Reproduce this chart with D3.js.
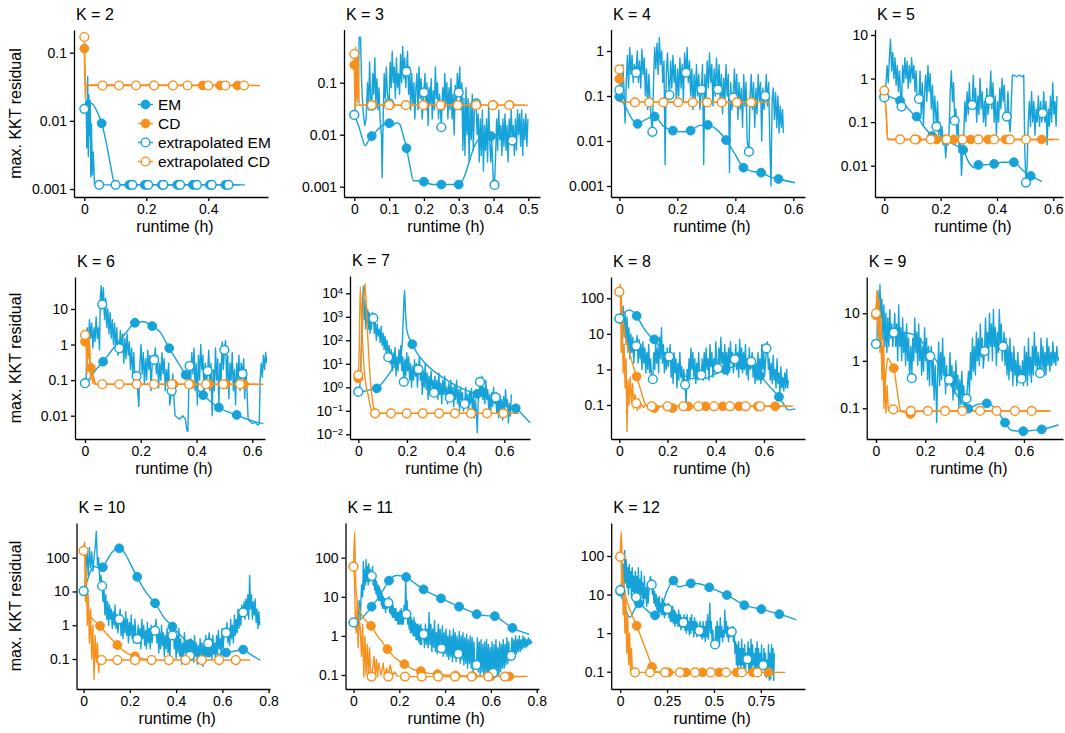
<!DOCTYPE html>
<html>
<head>
<meta charset="utf-8">
<script src="https://cdn.jsdelivr.net/npm/d3@7"></script>
<style>
  body { margin: 0; background: #fff; }
  svg text { font-family: "Liberation Sans", Arial, Helvetica, sans-serif; fill: #000; }
</style>
</head>
<body>
<svg id="chart" width="1065" height="733"></svg>
<script>
// ---------- runtime (h) vs. max. KKT residual, one panel per K ----------

// K = 2
const emK2 = [[0,0.015],[0.01,0.016],[0.024,0.018],[0.04,0.014],[0.056,0.0092],[0.07,0.005],[0.085,0.0022],[0.099,0.00115],[0.5,0.00115]];
const emK2Marks = [[0.056,0.0092],[0.145,0.00115],[0.195,0.00115],[0.25,0.00115],[0.3,0.00115],[0.35,0.00115],[0.405,0.00115],[0.455,0.00115]];
const cdK2 = [[0,0.115],[0.003,0.02],[0.006,0.033],[0.5,0.033]];
const cdK2Marks = [[0,0.115],[0.225,0.033],[0.285,0.033],[0.382,0.033],[0.438,0.033],[0.494,0.033]];
const xemK2 = [[0,0.015],[0.006,0.02],[0.008,0.004],[0.011,0.045],[0.013,0.003],[0.015,0.024],[0.017,0.006],[0.019,0.02],[0.021,0.0015],[0.023,0.009],[0.026,0.0016],[0.029,0.0035],[0.033,0.00115],[0.518,0.00115]];
const xemK2Marks = [[0,0.015],[0.048,0.00115],[0.101,0.00115],[0.155,0.00115],[0.206,0.00115],[0.255,0.00115],[0.309,0.00115],[0.363,0.00115],[0.411,0.00115],[0.465,0.00115]];
const xcdK2 = [[0,0.17],[0.004,0.034],[0.567,0.033]];
const xcdK2Marks = [[0,0.17],[0.059,0.033],[0.112,0.033],[0.167,0.033],[0.225,0.033],[0.286,0.033],[0.333,0.033],[0.4,0.033],[0.455,0.033],[0.515,0.033]];

// K = 3
const emK3 = [[0,0.024],[0.012,0.015],[0.022,0.009],[0.031,0.0061],[0.04,0.0075],[0.05,0.0094],[0.065,0.012],[0.08,0.015],[0.1,0.0166],[0.11,0.015],[0.12,0.017],[0.13,0.016],[0.14,0.01],[0.15,0.0055],[0.16,0.0025],[0.17,0.0013],[0.185,0.0013],[0.2,0.00125],[0.225,0.0011],[0.25,0.0011],[0.275,0.0011],[0.3,0.0011],[0.315,0.0015],[0.33,0.003],[0.345,0.006],[0.36,0.0085],[0.375,0.0095],[0.393,0.0094],[0.42,0.0098],[0.45,0.0098]];
const emK3Marks = [[0,0.024],[0.05,0.0094],[0.1,0.0166],[0.15,0.0055],[0.2,0.00125],[0.25,0.0011],[0.3,0.0011],[0.393,0.0094]];
const cdK3 = [[0,0.22],[0.002,0.03],[0.004,0.5],[0.006,0.05],[0.008,0.4],[0.01,0.04],[0.012,0.3],[0.014,0.037],[0.5,0.037]];
const cdK3Marks = [[0,0.22],[0.053,0.037],[0.103,0.037],[0.2,0.037],[0.251,0.037],[0.352,0.037],[0.4,0.037],[0.447,0.037]];
const xemK3 = [[0,0.024],[0.005,0.05],[0.008,0.3],[0.011,0.06],[0.014,0.75],[0.018,0.75],[0.021,0.1],[0.025,0.03],[0.03,0.015],[0.034,0.02],[0.038,0.1],[0.041,0.03],[0.044,0.25],[0.047,0.05],[0.05,0.036],[0.053,0.15],[0.056,0.06],[0.059,0.3],[0.062,0.04],[0.065,0.12],[0.068,0.03],[0.071,0.08],[0.074,0.02],[0.078,0.01],[0.08,0.0015],[0.083,0.02],[0.086,0.15],[0.089,0.05],[0.092,0.2],[0.095,0.06],[0.1,0.04],[0.103,0.25],[0.106,0.08],[0.109,0.4],[0.112,0.1],[0.115,0.2],[0.118,0.05],[0.121,0.3],[0.124,0.08],[0.127,0.15],[0.13,0.06],[0.133,0.35],[0.136,0.1],[0.139,0.5],[0.142,0.12],[0.145,0.3],[0.148,0.08],[0.15,0.163],[0.153,0.4],[0.156,0.06],[0.159,0.2],[0.162,0.03],[0.165,0.15],[0.168,0.04],[0.171,0.1],[0.174,0.02],[0.177,0.08],[0.18,0.15],[0.183,0.03],[0.186,0.2],[0.189,0.05],[0.192,0.12],[0.195,0.02],[0.2,0.065],[0.203,0.15],[0.206,0.03],[0.209,0.1],[0.212,0.015],[0.215,0.08],[0.218,0.04],[0.221,0.12],[0.224,0.02],[0.227,0.07],[0.23,0.03],[0.233,0.2],[0.236,0.05],[0.239,0.1],[0.242,0.02],[0.245,0.06],[0.25,0.0139],[0.254,0.08],[0.257,0.03],[0.26,0.15],[0.263,0.04],[0.266,0.1],[0.269,0.02],[0.272,0.08],[0.275,0.03],[0.278,0.12],[0.281,0.02],[0.284,0.06],[0.287,0.01],[0.29,0.09],[0.293,0.03],[0.296,0.15],[0.3,0.065],[0.303,0.2],[0.306,0.03],[0.309,0.1],[0.312,0.005],[0.315,0.05],[0.318,0.004],[0.321,0.08],[0.324,0.01],[0.327,0.05],[0.33,0.003],[0.333,0.04],[0.336,0.008],[0.339,0.06],[0.342,0.005],[0.345,0.03],[0.35,0.04],[0.353,0.01],[0.356,0.025],[0.359,0.003],[0.362,0.02],[0.365,0.004],[0.368,0.03],[0.371,0.002],[0.374,0.015],[0.377,0.005],[0.38,0.02],[0.383,0.003],[0.386,0.04],[0.389,0.008],[0.392,0.003],[0.395,0.008],[0.4,0.0011],[0.403,0.00108],[0.406,0.004],[0.409,0.02],[0.412,0.005],[0.415,0.03],[0.418,0.008],[0.421,0.015],[0.424,0.004],[0.427,0.02],[0.43,0.006],[0.433,0.025],[0.436,0.005],[0.439,0.015],[0.442,0.003],[0.445,0.02],[0.448,0.008],[0.451,0.03],[0.454,0.0077],[0.457,0.015],[0.46,0.004],[0.463,0.02],[0.466,0.005],[0.469,0.03],[0.472,0.01],[0.475,0.025],[0.478,0.006],[0.481,0.03],[0.484,0.004],[0.487,0.02],[0.49,0.008],[0.493,0.025],[0.496,0.006],[0.499,0.02]];
const xemK3Marks = [[0,0.024],[0.05,0.036],[0.1,0.04],[0.15,0.163],[0.2,0.065],[0.25,0.0139],[0.3,0.065],[0.35,0.04],[0.403,0.00108],[0.454,0.0077]];
const xcdK3 = [[0,0.356],[0.003,0.037],[0.49,0.037]];
const xcdK3Marks = [[0,0.356],[0.05,0.037],[0.1,0.037],[0.148,0.037],[0.198,0.037],[0.248,0.037],[0.297,0.037],[0.35,0.037],[0.398,0.037],[0.445,0.037]];

// K = 4
const emK4 = [[0,0.096],[0.02,0.06],[0.045,0.03],[0.063,0.024],[0.09,0.03],[0.122,0.035],[0.15,0.022],[0.185,0.017],[0.22,0.016],[0.246,0.017],[0.275,0.022],[0.305,0.0227],[0.34,0.017],[0.368,0.0105],[0.4,0.005],[0.428,0.00255],[0.46,0.0021],[0.489,0.00198],[0.52,0.0016],[0.549,0.00143],[0.606,0.00118]];
const emK4Marks = [[0,0.096],[0.063,0.024],[0.122,0.035],[0.185,0.017],[0.246,0.017],[0.305,0.0227],[0.368,0.0105],[0.428,0.00255],[0.489,0.00198],[0.549,0.00143]];
const cdK4 = [[0,0.24],[0.003,0.075],[0.52,0.072]];
const cdK4Marks = [[0,0.24],[0.405,0.072],[0.458,0.072]];
const xemK4 = [[0,0.136],[0.004,0.3],[0.008,0.1],[0.012,0.5],[0.016,0.15],[0.02,0.025],[0.024,0.2],[0.028,0.8],[0.032,0.15],[0.036,1.2],[0.04,0.3],[0.044,0.8],[0.048,0.2],[0.052,0.5],[0.058,0.33],[0.062,1],[0.066,0.2],[0.07,0.6],[0.074,0.15],[0.078,1.1],[0.082,0.3],[0.086,0.7],[0.09,0.1],[0.094,0.4],[0.098,0.05],[0.102,0.3],[0.106,0.08],[0.11,0.03],[0.114,0.016],[0.118,0.2],[0.122,1.2],[0.126,0.4],[0.13,1.5],[0.134,0.3],[0.138,2],[0.142,0.5],[0.146,1],[0.15,0.2],[0.154,0.6],[0.158,0.003],[0.162,0.3],[0.166,0.9],[0.17,0.2],[0.173,0.105],[0.177,0.6],[0.181,0.15],[0.185,0.8],[0.189,0.2],[0.193,0.5],[0.197,0.06],[0.201,0.4],[0.205,0.1],[0.209,0.7],[0.213,0.15],[0.217,0.5],[0.221,0.08],[0.225,0.9],[0.23,0.33],[0.234,1.2],[0.238,0.2],[0.242,0.6],[0.246,0.1],[0.25,0.4],[0.254,0.05],[0.258,0.3],[0.262,0.08],[0.266,0.5],[0.27,0.1],[0.274,0.3],[0.278,0.05],[0.283,0.14],[0.287,0.5],[0.291,0.003],[0.295,0.3],[0.299,0.08],[0.303,0.6],[0.307,0.15],[0.311,0.9],[0.315,0.2],[0.319,0.5],[0.323,0.06],[0.327,0.4],[0.331,0.1],[0.335,0.7],[0.34,0.14],[0.344,0.5],[0.348,0.08],[0.352,0.3],[0.356,0.04],[0.36,0.25],[0.364,0.08],[0.368,0.5],[0.372,0.1],[0.376,0.3],[0.38,0.002],[0.384,0.2],[0.388,0.05],[0.393,0.093],[0.397,0.4],[0.401,0.08],[0.405,0.3],[0.409,0.03],[0.413,0.2],[0.417,0.05],[0.421,0.15],[0.425,0.02],[0.429,0.3],[0.433,0.06],[0.437,0.2],[0.441,0.01],[0.447,0.0058],[0.451,0.1],[0.455,0.3],[0.459,0.05],[0.463,0.2],[0.467,0.02],[0.471,0.15],[0.475,0.04],[0.479,0.3],[0.483,0.08],[0.487,0.2],[0.491,0.01],[0.495,0.15],[0.499,0.05],[0.503,0.1],[0.507,0.3],[0.511,0.06],[0.515,0.2],[0.519,0.01],[0.523,0.001],[0.527,0.08],[0.531,0.15],[0.535,0.03],[0.539,0.12],[0.543,0.02],[0.547,0.1],[0.551,0.015],[0.555,0.06],[0.559,0.02],[0.563,0.05],[0.566,0.015]];
const xemK4Marks = [[0,0.136],[0.058,0.33],[0.114,0.016],[0.173,0.105],[0.23,0.33],[0.283,0.14],[0.34,0.14],[0.393,0.093],[0.447,0.0058],[0.503,0.1]];
const xcdK4 = [[0,0.39],[0.004,0.073],[0.52,0.072]];
const xcdK4Marks = [[0,0.39],[0.054,0.072],[0.103,0.072],[0.152,0.072],[0.203,0.072],[0.253,0.072],[0.303,0.072],[0.353,0.072],[0.405,0.072],[0.454,0.072]];

// K = 5
const emK5 = [[0,0.4],[0.02,0.38],[0.04,0.34],[0.056,0.31],[0.08,0.22],[0.1,0.16],[0.115,0.134],[0.14,0.08],[0.17,0.048],[0.2,0.038],[0.23,0.035],[0.25,0.03],[0.28,0.023],[0.3,0.012],[0.32,0.009],[0.334,0.0104],[0.36,0.0105],[0.39,0.011],[0.42,0.012],[0.46,0.012],[0.49,0.008],[0.52,0.0058],[0.54,0.005],[0.56,0.0043]];
const emK5Marks = [[0,0.4],[0.056,0.31],[0.115,0.134],[0.17,0.048],[0.28,0.023],[0.334,0.0104],[0.39,0.011],[0.46,0.012],[0.52,0.0058]];
const cdK5 = [[0,0.385],[0.006,0.2],[0.012,0.042],[0.02,0.04],[0.62,0.04]];
const cdK5Marks = [[0,0.385],[0.115,0.04],[0.186,0.04],[0.247,0.04],[0.307,0.04],[0.369,0.04],[0.431,0.04],[0.559,0.04]];
const xemK5 = [[0,0.37],[0.005,0.6],[0.01,2],[0.014,0.8],[0.018,3],[0.022,8],[0.026,1.5],[0.03,4],[0.034,1],[0.038,3],[0.042,0.7],[0.046,2],[0.05,0.5],[0.054,1.5],[0.058,0.4],[0.061,0.227],[0.065,2],[0.069,0.8],[0.073,3],[0.077,1],[0.081,2.5],[0.085,0.6],[0.089,2],[0.093,0.8],[0.097,3],[0.101,1],[0.105,2],[0.109,0.5],[0.113,1.5],[0.117,0.3],[0.123,0.34],[0.127,1.5],[0.131,0.15],[0.135,0.8],[0.139,0.08],[0.143,0.5],[0.147,1.2],[0.151,0.3],[0.155,2],[0.159,0.5],[0.163,1.3],[0.167,0.2],[0.171,0.7],[0.175,0.1],[0.179,0.4],[0.185,0.079],[0.189,0.3],[0.193,0.05],[0.197,0.1],[0.201,0.04],[0.205,0.08],[0.209,0.03],[0.213,0.05],[0.218,0.015],[0.222,0.04],[0.226,0.03],[0.23,0.06],[0.234,0.5],[0.238,1.5],[0.242,0.3],[0.246,0.8],[0.25,0.108],[0.254,0.2],[0.258,0.05],[0.262,0.1],[0.266,0.02],[0.27,0.04],[0.274,0.006],[0.278,0.02],[0.282,0.05],[0.286,0.3],[0.29,0.1],[0.294,0.5],[0.298,0.15],[0.302,0.8],[0.306,0.2],[0.312,0.248],[0.316,1.2],[0.32,0.2],[0.324,0.6],[0.328,0.1],[0.332,0.4],[0.336,0.15],[0.34,1],[0.344,0.2],[0.348,0.5],[0.352,0.1],[0.356,0.3],[0.36,0.08],[0.364,0.6],[0.368,0.15],[0.374,0.32],[0.378,1.5],[0.382,0.2],[0.386,0.8],[0.39,0.1],[0.394,0.4],[0.398,0.05],[0.402,0.3],[0.406,0.1],[0.41,0.6],[0.414,0.2],[0.418,1],[0.422,0.3],[0.426,0.7],[0.43,0.15],[0.435,0.134],[0.439,0.5],[0.443,0.1],[0.447,0.06],[0.451,0.3],[0.455,1.2],[0.46,1.2],[0.47,1.1],[0.48,1.2],[0.49,1.1],[0.495,1.2],[0.499,0.02],[0.503,0.0041],[0.507,0.01],[0.511,0.1],[0.515,0.3],[0.519,0.08],[0.523,0.5],[0.527,0.1],[0.531,0.3],[0.535,0.05],[0.539,0.2],[0.543,0.1],[0.547,0.4],[0.551,0.08],[0.555,0.3],[0.559,0.1],[0.562,0.16],[0.566,0.5],[0.57,0.1],[0.574,0.3],[0.578,0.03],[0.582,0.2],[0.586,0.08],[0.59,0.4],[0.594,0.1],[0.598,0.8],[0.602,0.15],[0.606,0.3],[0.61,0.08],[0.613,0.4]];
const xemK5Marks = [[0,0.37],[0.061,0.227],[0.123,0.34],[0.185,0.079],[0.25,0.108],[0.312,0.248],[0.374,0.32],[0.435,0.134],[0.503,0.0041],[0.562,0.16]];
const xcdK5 = [[0,0.53],[0.004,0.3],[0.012,0.04],[0.6,0.04]];
const xcdK5Marks = [[0,0.53],[0.056,0.04],[0.109,0.04],[0.165,0.04],[0.221,0.04],[0.278,0.04],[0.334,0.04],[0.39,0.04],[0.446,0.04],[0.503,0.04]];

// K = 6
const emK6 = [[0,0.082],[0.02,0.12],[0.04,0.2],[0.065,0.33],[0.09,0.6],[0.12,1.2],[0.15,2.3],[0.179,4.1],[0.21,4.4],[0.241,3.3],[0.27,2.2],[0.302,0.79],[0.33,0.35],[0.361,0.14],[0.39,0.07],[0.424,0.038],[0.45,0.025],[0.48,0.017],[0.51,0.013],[0.544,0.0105],[0.58,0.008],[0.62,0.0065],[0.64,0.006]];
const emK6Marks = [[0,0.082],[0.065,0.33],[0.179,4.1],[0.241,3.3],[0.302,0.79],[0.361,0.14],[0.424,0.038],[0.48,0.017],[0.544,0.0105]];
const cdK6 = [[0,1.2],[0.003,2.5],[0.006,0.3],[0.009,2],[0.012,0.5],[0.015,1.5],[0.018,0.2],[0.021,0.22],[0.025,0.25],[0.03,0.12],[0.035,0.09],[0.04,0.0766],[0.64,0.0766]];
const cdK6Marks = [[0,1.2],[0.021,0.22],[0.318,0.0766],[0.38,0.0766],[0.445,0.0766],[0.505,0.0766],[0.57,0.0766]];
const xemK6 = [[0,0.082],[0.004,0.1],[0.008,3],[0.012,1],[0.016,5],[0.02,1.5],[0.024,4],[0.028,0.8],[0.032,3],[0.036,1.2],[0.04,6],[0.044,1.5],[0.048,3],[0.052,0.7],[0.055,20],[0.058,45],[0.062,13.5],[0.066,40],[0.07,5],[0.074,20],[0.078,3],[0.082,10],[0.086,2],[0.09,8],[0.094,1.5],[0.098,5],[0.102,1],[0.106,4],[0.11,0.8],[0.114,3],[0.118,0.5],[0.123,0.79],[0.127,2.5],[0.131,0.6],[0.135,2],[0.139,0.3],[0.143,1.5],[0.147,0.4],[0.151,2],[0.155,0.5],[0.159,1.2],[0.163,0.2],[0.167,0.8],[0.171,0.15],[0.175,0.6],[0.179,0.1],[0.185,0.13],[0.189,0.05],[0.193,0.018],[0.197,0.3],[0.201,1],[0.205,0.15],[0.209,0.6],[0.213,0.08],[0.217,0.4],[0.221,0.1],[0.225,0.7],[0.229,0.2],[0.233,0.5],[0.237,0.05],[0.241,0.3],[0.248,0.37],[0.252,0.8],[0.256,0.15],[0.26,0.5],[0.264,0.06],[0.268,0.3],[0.272,0.1],[0.276,0.6],[0.28,0.15],[0.284,0.4],[0.288,0.05],[0.292,0.2],[0.296,0.08],[0.3,0.3],[0.304,0.02],[0.311,0.05],[0.315,0.15],[0.319,0.03],[0.323,0.01],[0.33,0.009],[0.34,0.008],[0.35,0.01],[0.36,0.008],[0.365,0.004],[0.369,0.0036],[0.372,0.05],[0.375,0.25],[0.379,0.1],[0.383,0.6],[0.387,0.15],[0.391,0.8],[0.395,0.05],[0.399,0.3],[0.403,0.02],[0.407,0.5],[0.411,0.1],[0.415,1],[0.419,0.2],[0.423,0.5],[0.427,0.03],[0.431,0.3],[0.435,0.08],[0.44,0.18],[0.444,0.7],[0.448,0.05],[0.452,0.3],[0.456,0.01],[0.46,0.2],[0.464,0.05],[0.468,0.8],[0.472,0.1],[0.476,0.4],[0.48,0.02],[0.484,0.3],[0.488,0.1],[0.492,1.2],[0.496,0.2],[0.5,0.71],[0.504,1.3],[0.508,0.1],[0.512,0.5],[0.516,0.03],[0.52,0.3],[0.524,0.1],[0.528,0.6],[0.532,0.05],[0.536,0.2],[0.54,0.02],[0.544,0.3],[0.548,0.1],[0.552,0.5],[0.556,0.05],[0.56,0.3],[0.565,0.15],[0.569,0.4],[0.573,0.03],[0.577,0.2],[0.581,0.05],[0.585,0.008],[0.59,0.007],[0.6,0.006],[0.61,0.0065],[0.62,0.0055],[0.625,0.006],[0.628,0.1],[0.632,0.3],[0.636,0.12],[0.64,0.5],[0.644,0.2],[0.648,0.6],[0.652,0.3]];
const xemK6Marks = [[0,0.082],[0.062,13.5],[0.123,0.79],[0.185,0.13],[0.248,0.37],[0.311,0.05],[0.375,0.25],[0.44,0.18],[0.5,0.71],[0.565,0.15]];
const xcdK6 = [[0,1.86],[0.004,2.6],[0.007,0.15],[0.01,1.8],[0.013,0.4],[0.017,1],[0.02,0.1],[0.024,0.3],[0.028,0.08],[0.032,0.12],[0.036,0.0766],[0.618,0.0766]];
const xcdK6Marks = [[0,1.86],[0.062,0.0766],[0.123,0.0766],[0.185,0.0766],[0.247,0.0766],[0.311,0.0766],[0.373,0.0766],[0.434,0.0766],[0.496,0.0766],[0.556,0.0766]];

// K = 7
const emK7 = [[0,0.65],[0.03,0.7],[0.05,0.8],[0.076,0.9],[0.1,1.6],[0.12,3],[0.14,6],[0.16,10],[0.172,18],[0.18,60],[0.185,1000],[0.19,14000],[0.194,1500],[0.2,250],[0.222,68],[0.24,30],[0.27,12],[0.3,6],[0.35,2.5],[0.4,1.2],[0.45,0.7],[0.489,0.52],[0.53,0.35],[0.57,0.22],[0.61,0.15],[0.647,0.128],[0.68,0.06],[0.706,0.031]];
const emK7Marks = [[0,0.65],[0.076,0.9],[0.222,68],[0.489,0.52],[0.647,0.128]];
const cdK7 = [[0,2.4],[0.004,50],[0.008,20000],[0.012,2000],[0.016,200],[0.02,30],[0.025,5],[0.03,1.5],[0.04,0.5],[0.05,0.15],[0.06,0.08],[0.66,0.078]];
const cdK7Marks = [[0,2.4]];
const xemK7 = [[0,0.65],[0.005,0.8],[0.01,3],[0.014,500],[0.018,5000],[0.021,20000],[0.024,800],[0.027,5000],[0.03,300],[0.033,3000],[0.036,500],[0.039,2000],[0.042,300],[0.045,1500],[0.048,200],[0.051,1000],[0.054,300],[0.058,1500],[0.062,870],[0.066,200],[0.07,600],[0.074,100],[0.078,500],[0.082,150],[0.086,300],[0.09,80],[0.094,400],[0.098,60],[0.102,200],[0.106,40],[0.11,150],[0.114,30],[0.118,100],[0.123,19],[0.127,60],[0.131,10],[0.135,40],[0.139,5],[0.143,30],[0.147,8],[0.151,50],[0.155,3],[0.159,20],[0.163,5],[0.167,40],[0.171,10],[0.175,60],[0.179,5],[0.183,20],[0.187,1.7],[0.191,15],[0.195,3],[0.199,30],[0.203,5],[0.207,20],[0.211,2],[0.215,10],[0.219,1],[0.223,8],[0.227,2],[0.231,15],[0.235,3],[0.239,10],[0.243,1],[0.247,5.8],[0.251,20],[0.255,2],[0.259,8],[0.263,0.5],[0.267,5],[0.271,1],[0.275,10],[0.279,0.8],[0.283,4],[0.287,0.3],[0.291,3],[0.295,0.5],[0.299,5],[0.303,1],[0.307,2],[0.311,0.59],[0.315,3],[0.319,0.4],[0.323,2],[0.327,0.3],[0.331,4],[0.335,0.5],[0.339,1.5],[0.343,0.2],[0.347,2],[0.351,0.5],[0.355,3],[0.359,0.3],[0.363,1],[0.367,0.2],[0.371,1.5],[0.376,0.36],[0.38,2],[0.384,0.3],[0.388,1],[0.392,0.15],[0.396,1.2],[0.4,0.3],[0.404,2],[0.408,0.2],[0.412,0.8],[0.416,0.1],[0.42,1],[0.424,0.3],[0.428,0.6],[0.432,0.1],[0.437,0.195],[0.441,1],[0.445,0.15],[0.449,0.5],[0.453,0.08],[0.457,0.7],[0.461,0.2],[0.465,0.9],[0.469,0.1],[0.473,0.4],[0.477,0.05],[0.481,0.3],[0.485,0.1],[0.489,0.012],[0.493,0.3],[0.497,0.8],[0.5,1.7],[0.504,0.5],[0.508,3],[0.512,0.3],[0.516,1],[0.52,0.2],[0.524,2],[0.528,0.3],[0.532,0.8],[0.536,0.1],[0.54,0.5],[0.544,0.08],[0.548,0.6],[0.552,0.15],[0.556,1],[0.56,0.2],[0.565,0.37],[0.569,0.08],[0.573,0.3],[0.577,0.05],[0.581,0.5],[0.585,0.1],[0.589,0.3],[0.593,0.04],[0.597,0.4],[0.601,0.1],[0.605,0.8],[0.609,0.15],[0.613,0.3],[0.617,0.03],[0.621,0.2],[0.625,0.06],[0.629,0.5]];
const xemK7Marks = [[0,0.65],[0.062,870],[0.123,19],[0.187,1.7],[0.247,5.8],[0.311,0.59],[0.376,0.36],[0.437,0.195],[0.5,1.7],[0.565,0.37]];
const xcdK7 = [[0,3.3],[0.008,2.5],[0.015,100],[0.022,5000],[0.028,25000],[0.033,3000],[0.038,200],[0.045,10],[0.052,1],[0.06,0.2],[0.069,0.078],[0.66,0.078]];
const xcdK7Marks = [[0,3.3],[0.069,0.078],[0.134,0.078],[0.199,0.078],[0.265,0.078],[0.332,0.078],[0.397,0.078],[0.463,0.078],[0.529,0.078],[0.596,0.078]];

// K = 8
const emK8 = [[0,27],[0.02,40],[0.042,47],[0.06,40],[0.072,32],[0.1,15],[0.125,9],[0.145,7],[0.17,4],[0.2,2.2],[0.25,0.9],[0.3,0.55],[0.35,0.55],[0.4,0.75],[0.441,0.97],[0.48,1.25],[0.51,1.34],[0.55,1.1],[0.584,0.67],[0.62,0.35],[0.662,0.17],[0.68,0.11],[0.701,0.073],[0.73,0.078]];
const emK8Marks = [[0,27],[0.072,32],[0.145,7],[0.441,0.97],[0.51,1.34],[0.584,0.67],[0.662,0.17]];
const cdK8 = [[0,150],[0.005,220],[0.01,60],[0.02,15],[0.03,6],[0.045,2.5],[0.06,1.1],[0.072,0.63],[0.09,0.25],[0.11,0.1],[0.13,0.085],[0.145,0.082],[0.18,0.09],[0.221,0.082],[0.25,0.092],[0.711,0.092]];
const cdK8Marks = [[0,150],[0.072,0.63],[0.145,0.082],[0.221,0.082],[0.286,0.092],[0.358,0.092],[0.429,0.092],[0.496,0.092],[0.574,0.092],[0.646,0.092]];
const xemK8 = [[0,27],[0.004,20],[0.008,80],[0.012,10],[0.016,60],[0.02,8],[0.024,40],[0.028,5],[0.032,30],[0.036,3],[0.04,15],[0.044,2],[0.048,10],[0.052,3],[0.056,8],[0.06,1.5],[0.065,6],[0.07,4.6],[0.074,9],[0.078,1.5],[0.082,7],[0.086,2],[0.09,5],[0.094,1],[0.098,6],[0.102,1.5],[0.106,4],[0.11,0.8],[0.114,3],[0.118,1],[0.122,5],[0.126,0.8],[0.13,2],[0.134,0.5],[0.139,0.53],[0.143,3],[0.147,1],[0.151,6],[0.155,1.5],[0.159,4],[0.163,0.8],[0.167,8],[0.171,2],[0.175,15],[0.179,1.5],[0.183,5],[0.187,0.8],[0.191,3],[0.195,1],[0.199,4],[0.203,1.2],[0.207,2.3],[0.211,5],[0.215,0.6],[0.219,2],[0.223,0.4],[0.227,3],[0.231,0.8],[0.235,2],[0.239,0.3],[0.243,1.5],[0.247,0.5],[0.251,3],[0.255,0.6],[0.259,1.2],[0.263,0.3],[0.267,1],[0.273,0.37],[0.277,0.1],[0.281,1],[0.285,0.4],[0.289,2],[0.293,0.5],[0.297,4],[0.301,1],[0.305,3],[0.309,0.6],[0.313,2],[0.317,0.4],[0.321,1.5],[0.325,0.5],[0.329,3],[0.333,0.8],[0.34,0.7],[0.344,2],[0.348,0.5],[0.352,3],[0.356,0.8],[0.36,4],[0.364,1],[0.368,2],[0.372,0.5],[0.376,5],[0.38,1.2],[0.384,3],[0.388,0.6],[0.392,2],[0.396,0.8],[0.4,6],[0.404,1.5],[0.409,1.08],[0.413,4],[0.417,1],[0.421,8],[0.425,1.5],[0.429,3],[0.433,0.8],[0.437,5],[0.441,1.2],[0.445,3],[0.449,0.7],[0.453,4],[0.457,1],[0.461,6],[0.465,1.5],[0.469,3],[0.473,0.8],[0.479,1.94],[0.483,5],[0.487,1],[0.491,3],[0.495,0.6],[0.499,7],[0.503,1.5],[0.507,4],[0.511,0.8],[0.515,3],[0.519,1],[0.523,5],[0.527,0.7],[0.531,2],[0.535,0.5],[0.539,4],[0.543,1],[0.547,1.66],[0.551,3],[0.555,0.6],[0.559,2],[0.563,0.4],[0.567,1.5],[0.571,0.5],[0.575,3],[0.579,0.8],[0.583,2],[0.587,0.4],[0.591,5],[0.595,1],[0.599,3],[0.603,0.7],[0.61,3.9],[0.614,6],[0.618,1],[0.622,2],[0.626,0.5],[0.63,1.5],[0.634,0.4],[0.638,2.5],[0.642,0.5],[0.646,1],[0.65,0.3],[0.654,2],[0.658,0.4],[0.662,0.8],[0.666,0.2],[0.67,1.2],[0.674,0.3],[0.678,0.6],[0.682,0.25],[0.686,0.8],[0.69,0.3],[0.694,1],[0.698,0.3],[0.701,0.5]];
const xemK8Marks = [[0,27],[0.07,4.6],[0.139,0.53],[0.207,2.3],[0.273,0.37],[0.34,0.7],[0.409,1.08],[0.479,1.94],[0.547,1.66],[0.61,3.9]];
const xcdK8 = [[0,153],[0.004,250],[0.008,3],[0.012,30],[0.016,0.8],[0.02,5],[0.024,0.3],[0.028,2],[0.032,0.018],[0.036,0.5],[0.04,0.1],[0.045,0.6],[0.05,0.12],[0.055,0.4],[0.06,0.08],[0.065,0.2],[0.07,0.112],[0.075,0.07],[0.08,0.15],[0.085,0.08],[0.09,0.11],[0.1,0.085],[0.11,0.1],[0.12,0.09],[0.134,0.092],[0.72,0.092]];
const xcdK8Marks = [[0,153],[0.07,0.112],[0.134,0.092],[0.2,0.092],[0.266,0.092],[0.328,0.092],[0.393,0.092],[0.459,0.092],[0.524,0.092],[0.584,0.092]];

// K = 9
const emK9 = [[0,2.26],[0.03,3],[0.072,3.9],[0.1,4],[0.15,3.6],[0.18,2.8],[0.2,2],[0.24,1.1],[0.28,0.5],[0.32,0.22],[0.35,0.13],[0.374,0.098],[0.41,0.12],[0.449,0.127],[0.49,0.09],[0.523,0.05],[0.55,0.034],[0.597,0.033],[0.63,0.034],[0.672,0.036],[0.74,0.045]];
const emK9Marks = [[0,2.26],[0.374,0.098],[0.449,0.127],[0.523,0.05],[0.597,0.033],[0.672,0.036]];
const cdK9 = [[0,9],[0.006,28],[0.012,2],[0.018,8],[0.024,0.6],[0.03,3],[0.036,0.3],[0.042,0.7],[0.048,1.13],[0.06,0.9],[0.072,0.7],[0.085,0.25],[0.1,0.09],[0.12,0.08],[0.14,0.076],[0.17,0.085],[0.2,0.088],[0.7,0.088]];
const cdK9Marks = [[0,9],[0.072,0.7],[0.14,0.076]];
const xemK9 = [[0,2.26],[0.004,3],[0.008,30],[0.012,5],[0.016,40],[0.02,8],[0.024,20],[0.028,3],[0.032,15],[0.036,2],[0.04,10],[0.044,1.5],[0.048,8],[0.052,2],[0.056,12],[0.06,3],[0.064,6],[0.068,2],[0.072,3.9],[0.076,10],[0.08,2],[0.084,6],[0.088,1],[0.092,15],[0.096,2],[0.1,5],[0.104,1],[0.108,8],[0.112,1.5],[0.116,4],[0.12,0.8],[0.124,6],[0.128,1],[0.132,3],[0.136,0.5],[0.141,2],[0.145,0.43],[0.149,3],[0.153,1],[0.157,8],[0.161,1.5],[0.165,4],[0.169,0.8],[0.173,6],[0.177,1],[0.181,3],[0.185,0.5],[0.189,2],[0.193,0.6],[0.197,5],[0.201,1],[0.205,3],[0.209,0.4],[0.213,2],[0.217,0.3],[0.22,1.25],[0.224,2],[0.228,0.3],[0.232,1],[0.236,0.15],[0.24,0.8],[0.244,0.2],[0.246,0.05],[0.25,0.5],[0.254,2.5],[0.258,0.3],[0.262,1.5],[0.266,0.4],[0.27,3],[0.274,0.5],[0.278,1.2],[0.282,0.2],[0.286,0.8],[0.29,0.3],[0.296,0.4],[0.3,1.5],[0.304,0.3],[0.308,0.8],[0.312,0.15],[0.316,0.6],[0.32,0.2],[0.324,1],[0.328,0.25],[0.332,0.5],[0.336,0.1],[0.34,0.4],[0.344,0.12],[0.348,0.6],[0.352,0.15],[0.356,0.3],[0.36,0.08],[0.367,0.16],[0.371,0.3],[0.375,0.6],[0.379,0.2],[0.383,1.5],[0.387,0.4],[0.391,3],[0.395,0.6],[0.399,2],[0.403,0.5],[0.407,4],[0.411,1],[0.415,3],[0.419,0.8],[0.423,6],[0.427,1.2],[0.431,3],[0.435,0.7],[0.44,1.6],[0.444,8],[0.448,1.5],[0.452,4],[0.456,1],[0.46,10],[0.464,2],[0.468,6],[0.472,1],[0.476,12],[0.48,2],[0.484,5],[0.488,0.8],[0.492,4],[0.496,1.5],[0.5,12],[0.504,2],[0.508,6],[0.512,1],[0.515,2],[0.519,4],[0.523,0.8],[0.527,3],[0.531,0.5],[0.535,2],[0.539,0.4],[0.543,3],[0.547,0.6],[0.551,1.5],[0.555,0.3],[0.559,2],[0.563,0.5],[0.567,1],[0.571,0.3],[0.575,1.5],[0.579,0.4],[0.583,0.8],[0.59,0.42],[0.594,1],[0.598,0.3],[0.602,2],[0.606,0.4],[0.61,1.5],[0.614,0.3],[0.618,3],[0.622,0.5],[0.626,1.2],[0.63,0.35],[0.634,2],[0.638,0.5],[0.642,4],[0.646,0.8],[0.65,2],[0.654,0.5],[0.658,1.5],[0.665,0.55],[0.669,3],[0.673,0.7],[0.677,2],[0.681,0.6],[0.685,1.5],[0.689,0.5],[0.693,3],[0.697,0.8],[0.701,2],[0.705,0.6],[0.709,1.5],[0.713,0.8],[0.717,2.5],[0.721,0.9],[0.725,1.5],[0.729,0.8],[0.733,2],[0.737,1],[0.74,1.2]];
const xemK9Marks = [[0,2.26],[0.072,3.9],[0.145,0.43],[0.22,1.25],[0.296,0.4],[0.367,0.16],[0.44,1.6],[0.515,2],[0.59,0.42],[0.665,0.55]];
const xcdK9 = [[0,10],[0.004,30],[0.008,4],[0.012,20],[0.016,1.5],[0.02,8],[0.024,0.4],[0.028,2],[0.032,0.1],[0.036,0.6],[0.04,0.08],[0.045,0.3],[0.05,0.09],[0.06,0.1],[0.07,0.095],[0.08,0.088],[0.708,0.088]];
const xcdK9Marks = [[0,10],[0.07,0.095],[0.141,0.088],[0.21,0.088],[0.28,0.088],[0.35,0.088],[0.422,0.088],[0.489,0.088],[0.563,0.088],[0.631,0.088]];

// K = 10
const emK10 = [[0,10.3],[0.015,20],[0.03,40],[0.05,55],[0.065,50],[0.083,52],[0.1,80],[0.125,150],[0.154,190],[0.18,130],[0.205,60],[0.232,27],[0.26,12],[0.285,7],[0.309,4.5],[0.345,1.8],[0.384,0.91],[0.42,0.5],[0.46,0.28],[0.5,0.2],[0.539,0.155],[0.58,0.14],[0.616,0.155],[0.65,0.17],[0.69,0.19],[0.72,0.14],[0.763,0.093]];
const emK10Marks = [[0,10.3],[0.083,52],[0.154,190],[0.232,27],[0.309,4.5],[0.384,0.91],[0.46,0.28],[0.539,0.155],[0.616,0.155],[0.69,0.19]];
const cdK10 = [[0,160],[0.005,300],[0.01,20],[0.015,6],[0.02,3],[0.03,1.8],[0.05,1.3],[0.071,0.95],[0.1,0.55],[0.146,0.26],[0.18,0.16],[0.222,0.12],[0.26,0.1],[0.3,0.095]];
const cdK10Marks = [[0,160],[0.071,0.95],[0.146,0.26],[0.222,0.12]];
const xemK10 = [[0,10.3],[0.005,15],[0.01,40],[0.015,150],[0.02,30],[0.025,200],[0.03,50],[0.035,150],[0.04,40],[0.045,100],[0.05,200],[0.055,600],[0.06,60],[0.065,100],[0.07,20],[0.075,30],[0.08,14.5],[0.084,5],[0.088,12],[0.092,2],[0.096,8],[0.1,1.5],[0.104,5],[0.108,1],[0.112,4],[0.116,1.5],[0.12,3],[0.124,0.8],[0.128,2.5],[0.132,1],[0.136,4],[0.14,0.8],[0.144,2],[0.148,0.6],[0.154,1.5],[0.158,3],[0.162,0.5],[0.166,2],[0.17,0.4],[0.174,1.5],[0.178,0.6],[0.182,2.5],[0.186,0.5],[0.19,1.5],[0.194,0.3],[0.198,1.2],[0.202,0.5],[0.206,2],[0.21,0.4],[0.214,1],[0.218,0.3],[0.222,1.5],[0.226,0.5],[0.232,0.39],[0.236,1],[0.24,0.3],[0.244,0.8],[0.248,0.2],[0.252,1.5],[0.256,0.4],[0.26,1],[0.264,0.25],[0.268,0.7],[0.272,0.2],[0.276,1.2],[0.28,0.3],[0.284,0.8],[0.288,0.2],[0.292,1],[0.296,0.3],[0.3,0.6],[0.309,0.69],[0.313,1.5],[0.317,0.3],[0.321,0.8],[0.325,0.15],[0.329,0.6],[0.333,0.2],[0.337,1],[0.341,0.25],[0.345,0.6],[0.349,0.12],[0.353,0.5],[0.357,0.2],[0.361,0.8],[0.365,0.15],[0.369,0.4],[0.373,0.1],[0.377,0.7],[0.384,0.5],[0.388,1.2],[0.392,0.2],[0.396,0.6],[0.4,0.1],[0.404,0.5],[0.408,0.15],[0.412,0.8],[0.416,0.12],[0.42,0.4],[0.424,0.07],[0.428,0.3],[0.432,0.1],[0.436,0.6],[0.44,0.15],[0.444,0.3],[0.448,0.08],[0.452,0.25],[0.46,0.126],[0.464,0.4],[0.468,0.1],[0.472,0.3],[0.476,0.08],[0.48,0.5],[0.484,0.12],[0.488,0.3],[0.492,0.07],[0.496,0.25],[0.5,0.1],[0.504,0.4],[0.508,0.12],[0.512,0.3],[0.516,0.06],[0.52,0.25],[0.524,0.1],[0.528,0.5],[0.532,0.15],[0.539,0.29],[0.543,0.6],[0.547,0.15],[0.551,0.4],[0.555,0.1],[0.559,0.5],[0.563,0.15],[0.567,0.3],[0.571,0.08],[0.575,0.5],[0.579,0.15],[0.583,0.7],[0.587,0.2],[0.591,0.4],[0.595,0.12],[0.599,0.8],[0.603,0.2],[0.607,0.5],[0.616,0.6],[0.62,1.2],[0.624,0.3],[0.628,0.8],[0.632,0.25],[0.636,1.5],[0.64,0.4],[0.644,1],[0.648,0.3],[0.652,2],[0.656,0.5],[0.66,1.5],[0.664,0.6],[0.668,3],[0.672,0.8],[0.676,2],[0.68,1],[0.684,4],[0.69,2.4],[0.694,5],[0.698,1.5],[0.702,6],[0.706,2],[0.71,8],[0.714,1.5],[0.718,30],[0.722,3],[0.726,8],[0.73,1.5],[0.734,5],[0.738,2],[0.742,6],[0.746,1.2],[0.75,3],[0.754,0.8],[0.758,2.5],[0.762,1]];
const xemK10Marks = [[0,10.3],[0.08,14.5],[0.154,1.5],[0.232,0.39],[0.309,0.69],[0.384,0.5],[0.46,0.126],[0.539,0.29],[0.616,0.6],[0.69,2.4]];
const xcdK10 = [[0,160],[0.004,250],[0.008,5],[0.012,40],[0.016,1],[0.02,8],[0.025,0.3],[0.03,3],[0.035,0.1],[0.04,1],[0.045,0.025],[0.05,0.5],[0.055,0.08],[0.06,0.3],[0.065,0.04],[0.07,0.1],[0.078,0.093],[0.72,0.093]];
const xcdK10Marks = [[0,160],[0.078,0.093],[0.146,0.093],[0.222,0.093],[0.294,0.093],[0.369,0.093],[0.441,0.093],[0.511,0.093],[0.586,0.093],[0.658,0.093]];

// K = 11
const emK11 = [[0,2.2],[0.02,2.4],[0.04,3],[0.06,4],[0.079,5.6],[0.1,8],[0.13,15],[0.155,26],[0.19,35],[0.23,32],[0.26,24],[0.306,15.5],[0.34,12],[0.382,9.1],[0.42,7.2],[0.461,5.6],[0.5,4.5],[0.538,3.6],[0.58,3.3],[0.617,3.2],[0.65,2.4],[0.694,1.6],[0.73,1.3],[0.767,1.1]];
const emK11Marks = [[0,2.2],[0.079,5.6],[0.155,26],[0.23,32],[0.306,15.5],[0.382,9.1],[0.461,5.6],[0.538,3.6],[0.617,3.2],[0.694,1.6]];
const cdK11 = [[0,60],[0.005,460],[0.01,20],[0.02,6],[0.035,3.5],[0.055,2.4],[0.076,1.8],[0.1,1.1],[0.125,0.7],[0.148,0.46],[0.18,0.28],[0.222,0.19],[0.26,0.14],[0.294,0.126],[0.33,0.11],[0.367,0.105],[0.4,0.1],[0.45,0.097],[0.5,0.095],[0.55,0.094],[0.6,0.093],[0.7,0.092],[0.76,0.092]];
const cdK11Marks = [[0,60],[0.076,1.8],[0.148,0.46],[0.222,0.19],[0.294,0.126],[0.367,0.105],[0.445,0.097],[0.52,0.094],[0.6,0.093],[0.68,0.092]];
const xemK11 = [[0,2.2],[0.005,2.5],[0.01,1.5],[0.015,3],[0.02,2],[0.025,8],[0.03,3],[0.035,20],[0.04,10],[0.043,80],[0.046,15],[0.049,50],[0.052,20],[0.055,90],[0.058,25],[0.061,60],[0.064,20],[0.067,70],[0.07,25],[0.073,50],[0.076,30],[0.08,34],[0.083,60],[0.086,20],[0.089,40],[0.092,15],[0.095,30],[0.098,12],[0.101,25],[0.104,10],[0.107,20],[0.11,8],[0.113,18],[0.116,8],[0.119,15],[0.122,6],[0.125,12],[0.128,5],[0.131,10],[0.134,5],[0.137,9],[0.14,4],[0.143,8],[0.146,5],[0.152,7],[0.155,10],[0.158,4],[0.161,8],[0.164,3.5],[0.167,7],[0.17,3],[0.173,6],[0.176,3],[0.179,5],[0.182,2.5],[0.185,5],[0.188,2.5],[0.191,4],[0.194,2],[0.197,4],[0.2,2],[0.203,4.5],[0.206,2],[0.209,5],[0.212,2],[0.215,4],[0.218,2],[0.221,6],[0.225,3],[0.228,40],[0.231,3.6],[0.234,8],[0.237,2],[0.24,4],[0.243,1.5],[0.246,3],[0.249,1.2],[0.252,3],[0.255,1.2],[0.258,2.5],[0.261,1],[0.264,3],[0.267,1],[0.27,2.2],[0.273,0.8],[0.276,2],[0.279,0.8],[0.282,2],[0.285,0.7],[0.288,1.8],[0.291,0.6],[0.294,2],[0.297,0.6],[0.3,1.5],[0.306,1.1],[0.31,0.5],[0.314,2],[0.318,0.6],[0.322,1.5],[0.326,0.5],[0.33,4],[0.334,0.6],[0.338,2],[0.342,0.4],[0.346,1.5],[0.35,0.5],[0.354,2.5],[0.358,0.4],[0.362,1.2],[0.366,0.35],[0.37,2],[0.374,0.5],[0.378,1.5],[0.384,0.48],[0.388,1.8],[0.392,0.3],[0.396,1.2],[0.4,0.35],[0.404,1.5],[0.408,0.3],[0.412,1],[0.416,0.25],[0.42,1.4],[0.424,0.3],[0.428,1],[0.432,0.22],[0.436,1.5],[0.44,0.28],[0.444,1.2],[0.448,0.22],[0.452,1],[0.458,0.35],[0.462,1.3],[0.466,0.2],[0.47,1],[0.474,0.25],[0.478,1.2],[0.482,0.18],[0.486,0.9],[0.49,0.2],[0.494,1.1],[0.498,0.15],[0.502,0.8],[0.506,0.2],[0.51,1],[0.514,0.15],[0.518,0.9],[0.522,0.12],[0.526,0.7],[0.53,0.15],[0.537,0.18],[0.541,0.9],[0.545,0.12],[0.549,0.7],[0.553,0.1],[0.557,0.8],[0.561,0.12],[0.565,0.6],[0.569,0.1],[0.573,0.7],[0.577,0.1],[0.581,0.8],[0.585,0.1],[0.589,0.6],[0.593,0.09],[0.597,0.5],[0.601,0.1],[0.605,0.7],[0.61,0.115],[0.614,0.6],[0.618,0.1],[0.622,0.8],[0.626,0.12],[0.63,0.5],[0.634,0.1],[0.638,0.7],[0.642,0.12],[0.646,0.6],[0.65,0.15],[0.654,0.8],[0.658,0.15],[0.662,0.6],[0.666,0.18],[0.67,0.9],[0.674,0.2],[0.678,0.7],[0.682,0.25],[0.688,0.31],[0.692,0.9],[0.696,0.3],[0.7,0.8],[0.704,0.3],[0.708,1],[0.712,0.35],[0.716,0.8],[0.72,0.4],[0.724,1],[0.728,0.4],[0.732,0.8],[0.736,0.45],[0.74,1],[0.744,0.5],[0.748,0.9],[0.752,0.5],[0.756,0.8],[0.76,0.55],[0.764,0.9],[0.768,0.6],[0.772,0.8],[0.776,0.65],[0.78,0.7]];
const xemK11Marks = [[0,2.2],[0.08,34],[0.152,7],[0.231,3.6],[0.306,1.1],[0.384,0.48],[0.458,0.35],[0.537,0.18],[0.61,0.115],[0.688,0.31]];
const xcdK11 = [[0,59],[0.004,30],[0.008,3],[0.012,1.2],[0.016,8],[0.02,0.5],[0.025,3],[0.03,1.4],[0.035,0.3],[0.04,2],[0.045,0.09],[0.05,1],[0.055,0.1],[0.06,0.6],[0.065,0.09],[0.07,0.5],[0.075,0.1],[0.079,0.085],[0.09,0.3],[0.095,0.1],[0.1,0.25],[0.105,0.09],[0.11,0.2],[0.12,0.1],[0.13,0.2],[0.135,0.095],[0.145,0.15],[0.152,0.09],[0.16,0.18],[0.17,0.1],[0.18,0.12],[0.19,0.095],[0.225,0.091],[0.737,0.091]];
const xcdK11Marks = [[0,59],[0.079,0.091],[0.152,0.091],[0.225,0.091],[0.298,0.091],[0.37,0.091],[0.443,0.091],[0.516,0.091],[0.589,0.091],[0.661,0.091]];

// K = 12
const emK12 = [[0,12],[0.015,7],[0.03,4],[0.053,2.6],[0.075,4],[0.1,5.9],[0.14,4],[0.186,2.9],[0.22,5],[0.255,14],[0.284,23],[0.31,16],[0.34,17],[0.377,19.5],[0.42,19],[0.475,15.4],[0.52,12.5],[0.569,9.7],[0.62,7],[0.662,5.3],[0.71,4.6],[0.753,4.2],[0.8,3.6],[0.849,3.1],[0.94,2.2]];
const emK12Marks = [[0,12],[0.1,5.9],[0.186,2.9],[0.284,23],[0.377,19.5],[0.475,15.4],[0.569,9.7],[0.662,5.3],[0.753,4.2],[0.849,3.1]];
const cdK12 = [[0,95],[0.006,430],[0.012,40],[0.025,12],[0.045,5],[0.065,2.8],[0.088,1.55],[0.12,0.6],[0.15,0.25],[0.17,0.133],[0.19,0.1],[0.257,0.096],[0.88,0.096]];
const cdK12Marks = [[0,95],[0.088,1.55],[0.17,0.133],[0.257,0.096],[0.35,0.096],[0.439,0.096],[0.528,0.096],[0.622,0.096],[0.708,0.096],[0.791,0.096]];
const xemK12 = [[0,13],[0.006,20],[0.012,8],[0.016,60],[0.02,15],[0.024,140],[0.028,20],[0.032,80],[0.036,15],[0.04,50],[0.044,10],[0.048,60],[0.052,15],[0.056,40],[0.06,8],[0.064,50],[0.068,12],[0.072,30],[0.076,6],[0.08,40],[0.085,8.5],[0.089,30],[0.093,10],[0.097,50],[0.101,8],[0.105,25],[0.109,10],[0.113,40],[0.117,8],[0.121,20],[0.125,6],[0.129,30],[0.133,8],[0.137,15],[0.141,5],[0.145,20],[0.149,6],[0.153,12],[0.157,15],[0.161,30],[0.168,18],[0.172,10],[0.176,20],[0.18,6],[0.184,12],[0.188,5],[0.192,10],[0.196,4],[0.2,8],[0.204,3],[0.208,9],[0.212,3.5],[0.216,6],[0.22,3],[0.224,8],[0.228,3],[0.232,7],[0.236,2.5],[0.24,6],[0.244,3],[0.252,4.2],[0.256,6],[0.26,2.5],[0.264,5],[0.268,2],[0.272,4],[0.276,2],[0.28,5],[0.284,1.8],[0.288,4],[0.292,1.5],[0.296,3.5],[0.3,1.8],[0.304,3],[0.308,1.5],[0.312,4],[0.316,1.5],[0.32,3],[0.324,1.2],[0.328,2.5],[0.332,1.4],[0.337,1.9],[0.341,3],[0.345,1.2],[0.349,2.5],[0.353,1],[0.357,3],[0.361,1.2],[0.365,2],[0.369,0.9],[0.373,2.5],[0.377,1],[0.381,3],[0.385,1.2],[0.389,2],[0.393,0.8],[0.397,2.5],[0.401,1],[0.405,2],[0.409,0.8],[0.413,1.8],[0.417,0.9],[0.422,1.15],[0.426,2],[0.43,0.8],[0.434,1.5],[0.438,0.7],[0.442,2],[0.446,0.8],[0.45,1.5],[0.454,0.6],[0.458,2],[0.462,0.8],[0.466,3],[0.47,0.7],[0.474,1.5],[0.478,6],[0.482,1],[0.486,2],[0.49,0.6],[0.494,1.2],[0.498,0.5],[0.506,0.51],[0.51,1.5],[0.514,0.6],[0.518,2],[0.522,0.7],[0.526,1.5],[0.53,0.5],[0.534,2.5],[0.538,0.8],[0.542,1.5],[0.546,0.6],[0.55,1.2],[0.554,0.8],[0.558,4],[0.562,1],[0.566,2],[0.57,0.8],[0.574,1.5],[0.578,0.6],[0.582,1.2],[0.586,0.8],[0.595,1.08],[0.6,1.5],[0.604,0.6],[0.608,1.2],[0.612,0.3],[0.616,0.6],[0.62,0.15],[0.624,0.5],[0.628,0.12],[0.632,0.6],[0.636,0.15],[0.64,0.4],[0.644,0.1],[0.648,0.7],[0.652,0.15],[0.656,0.4],[0.66,0.12],[0.664,0.5],[0.668,0.1],[0.672,0.3],[0.678,0.21],[0.682,0.6],[0.686,0.1],[0.69,0.4],[0.694,0.12],[0.698,0.7],[0.702,0.1],[0.706,0.5],[0.71,0.15],[0.714,0.3],[0.718,0.08],[0.722,0.4],[0.726,0.1],[0.73,0.6],[0.734,0.12],[0.738,0.4],[0.742,0.09],[0.746,0.3],[0.75,0.1],[0.754,0.5],[0.758,0.12],[0.763,0.148],[0.767,0.4],[0.771,0.08],[0.775,0.3],[0.779,0.07],[0.783,0.2],[0.787,0.1],[0.791,0.5],[0.795,0.06],[0.799,0.3],[0.803,0.065],[0.807,0.5],[0.811,0.1],[0.815,0.4],[0.819,0.06],[0.822,0.3]];
const xemK12Marks = [[0,13],[0.085,8.5],[0.168,18],[0.252,4.2],[0.337,1.9],[0.422,1.15],[0.506,0.51],[0.595,1.08],[0.678,0.21],[0.763,0.148]];
const xcdK12 = [[0,96],[0.004,300],[0.008,10],[0.012,60],[0.016,3],[0.02,20],[0.025,1],[0.03,8],[0.035,0.3],[0.04,3],[0.045,0.15],[0.05,1],[0.055,0.1],[0.06,0.4],[0.065,0.1],[0.079,0.096],[0.75,0.096]];
const xcdK12Marks = [[0,96],[0.079,0.096],[0.159,0.096],[0.239,0.096],[0.319,0.096],[0.399,0.096],[0.483,0.096],[0.564,0.096],[0.649,0.096],[0.732,0.096]];

// tick values
const xTicksK2 = [0, 0.2, 0.4];
const xTicksK3 = [0, 0.1, 0.2, 0.3, 0.4, 0.5];
const xTicksMid = [0, 0.2, 0.4, 0.6];
const xTicksWide = [0, 0.2, 0.4, 0.6, 0.8];
const xTicksK12 = [0, 0.25, 0.5, 0.75];
const yTicksSmall = [0.001, 0.01, 0.1];
const yTicksK4 = [0.001, 0.01, 0.1, 1];
const yTicksK5 = [0.01, 0.1, 1, 10];
const yTicksK7 = [1e-2, 1e-1, 1, 10, 100, 1e3, 1e4];
const yTicksK9 = [0.1, 1, 10];
const yTicksLarge = [0.1, 1, 10, 100];

const legendLabels = ["EM", "CD", "extrapolated EM", "extrapolated CD"];

const panels = [
  {k: 2,  em: emK2,  emM: emK2Marks,  cd: cdK2,  cdM: cdK2Marks,  xem: xemK2,  xemM: xemK2Marks,  xcd: xcdK2,  xcdM: xcdK2Marks,  xt: xTicksK2,   yt: yTicksSmall},
  {k: 3,  em: emK3,  emM: emK3Marks,  cd: cdK3,  cdM: cdK3Marks,  xem: xemK3,  xemM: xemK3Marks,  xcd: xcdK3,  xcdM: xcdK3Marks,  xt: xTicksK3,   yt: yTicksSmall},
  {k: 4,  em: emK4,  emM: emK4Marks,  cd: cdK4,  cdM: cdK4Marks,  xem: xemK4,  xemM: xemK4Marks,  xcd: xcdK4,  xcdM: xcdK4Marks,  xt: xTicksMid,  yt: yTicksK4},
  {k: 5,  em: emK5,  emM: emK5Marks,  cd: cdK5,  cdM: cdK5Marks,  xem: xemK5,  xemM: xemK5Marks,  xcd: xcdK5,  xcdM: xcdK5Marks,  xt: xTicksMid,  yt: yTicksK5},
  {k: 6,  em: emK6,  emM: emK6Marks,  cd: cdK6,  cdM: cdK6Marks,  xem: xemK6,  xemM: xemK6Marks,  xcd: xcdK6,  xcdM: xcdK6Marks,  xt: xTicksMid,  yt: yTicksK5},
  {k: 7,  em: emK7,  emM: emK7Marks,  cd: cdK7,  cdM: cdK7Marks,  xem: xemK7,  xemM: xemK7Marks,  xcd: xcdK7,  xcdM: xcdK7Marks,  xt: xTicksMid,  yt: yTicksK7, pow: true},
  {k: 8,  em: emK8,  emM: emK8Marks,  cd: cdK8,  cdM: cdK8Marks,  xem: xemK8,  xemM: xemK8Marks,  xcd: xcdK8,  xcdM: xcdK8Marks,  xt: xTicksMid,  yt: yTicksLarge},
  {k: 9,  em: emK9,  emM: emK9Marks,  cd: cdK9,  cdM: cdK9Marks,  xem: xemK9,  xemM: xemK9Marks,  xcd: xcdK9,  xcdM: xcdK9Marks,  xt: xTicksMid,  yt: yTicksK9},
  {k: 10, em: emK10, emM: emK10Marks, cd: cdK10, cdM: cdK10Marks, xem: xemK10, xemM: xemK10Marks, xcd: xcdK10, xcdM: xcdK10Marks, xt: xTicksWide, yt: yTicksLarge},
  {k: 11, em: emK11, emM: emK11Marks, cd: cdK11, cdM: cdK11Marks, xem: xemK11, xemM: xemK11Marks, xcd: xcdK11, xcdM: xcdK11Marks, xt: xTicksWide, yt: yTicksLarge},
  {k: 12, em: emK12, emM: emK12Marks, cd: cdK12, cdM: cdK12Marks, xem: xemK12, xemM: xemK12Marks, xcd: xcdK12, xcdM: xcdK12Marks, xt: xTicksK12,  yt: yTicksLarge}
];

// panel frames (pixels) and two reference ticks per axis: [value, px, value, px]
const frames = [
  {left: 74,    top: 30,  right: 268,  bottom: 197, xCal: [0, 84.3, 0.4, 208.3],   yCal: [0.1, 52.7, 0.001, 189]},
  {left: 344,   top: 29.5,right: 540,  bottom: 197, xCal: [0, 354.3, 0.5, 528.3],  yCal: [0.1, 82.7, 0.001, 186.7]},
  {left: 611,   top: 29.5,right: 805,  bottom: 197, xCal: [0, 619.3, 0.6, 793.3],  yCal: [1, 51, 0.001, 186]},
  {left: 875,   top: 29.5,right: 1063, bottom: 197, xCal: [0, 884.3, 0.6, 1053.3], yCal: [10, 35, 0.01, 165.7]},
  {left: 75,    top: 277, right: 265,  bottom: 439, xCal: [0, 85, 0.6, 252.3],     yCal: [10, 309, 0.01, 415.7]},
  {left: 350,   top: 276, right: 530,  bottom: 439, xCal: [0, 358.3, 0.6, 504.3],  yCal: [1e4, 293.3, 0.01, 434.3]},
  {left: 611,   top: 277, right: 805,  bottom: 439, xCal: [0, 619.3, 0.6, 764],    yCal: [100, 298.3, 0.1, 405]},
  {left: 866.7, top: 277, right: 1063, bottom: 439, xCal: [0, 876, 0.6, 1024],     yCal: [10, 313.3, 0.1, 408.3]},
  {left: 76.5,  top: 523, right: 270,  bottom: 689, xCal: [0, 83.6, 0.8, 268.6],   yCal: [100, 557.7, 0.1, 659]},
  {left: 345.5, top: 523, right: 539,  bottom: 689, xCal: [0, 353.5, 0.8, 536.7],  yCal: [100, 557.7, 0.1, 675]},
  {left: 611.2, top: 523, right: 805,  bottom: 689, xCal: [0, 620.2, 0.75, 760.8], yCal: [100, 556, 0.1, 671.7]}
];

const BLUE = "#16a3d9";
const ORANGE = "#f6911e";
const LINE_W = 1.4;
const R = 4.4;

const svg = d3.select("#chart");

// "10" with a superscript exponent, for the decade ticks of K = 7
function powLabel(sel) {
  sel.each(function (d) {
    const e = Math.round(Math.log10(d));
    const t = d3.select(this);
    t.text("10");
    t.append("tspan").attr("dy", "-0.5em").attr("font-size", "9.5px")
      .text(String(e).replace("-", "\u2212"));
  });
}

panels.forEach((p, i) => {
  const f = frames[i];
  const xc = d3.scaleLinear().domain([f.xCal[0], f.xCal[2]]).range([f.xCal[1], f.xCal[3]]);
  const yc = d3.scaleLog().domain([f.yCal[0], f.yCal[2]]).range([f.yCal[1], f.yCal[3]]);
  const x = d3.scaleLinear().domain([xc.invert(f.left), xc.invert(f.right)]).range([f.left, f.right]);
  const y = d3.scaleLog().domain([yc.invert(f.bottom), yc.invert(f.top)]).range([f.bottom, f.top]);

  const g = svg.append("g").attr("class", "panel");
  const clipId = "clip-k" + p.k;
  g.append("clipPath").attr("id", clipId).append("rect")
    .attr("x", f.left).attr("y", f.top - 3)
    .attr("width", f.right - f.left + 2).attr("height", f.bottom - f.top + 3);

  // axes
  const xa = g.append("g").attr("transform", `translate(0,${f.bottom})`)
    .call(d3.axisBottom(x).tickValues(p.xt).tickSizeInner(4).tickSizeOuter(0).tickPadding(3)
      .tickFormat(d => String(d)));
  const ya = g.append("g").attr("transform", `translate(${f.left},0)`)
    .call(d3.axisLeft(y).tickValues(p.yt).tickSizeInner(4).tickSizeOuter(0).tickPadding(3)
      .tickFormat(d => String(+d.toPrecision(3))));
  [xa, ya].forEach(a => {
    a.attr("font-size", 14).attr("font-family", null);
    a.selectAll("path, line").attr("stroke", "#000").attr("stroke-width", 1.3);
    a.selectAll("text").attr("fill", "#000");
  });
  if (p.pow) ya.selectAll(".tick text").call(powLabel);

  // panel title and x-axis title
  g.append("text").attr("x", f.left + 2).attr("y", f.top - 10)
    .attr("font-size", 16).text(`K = ${p.k}`);
  g.append("text").attr("x", (f.left + f.right) / 2 + 4).attr("y", f.bottom + 35)
    .attr("text-anchor", "middle").attr("font-size", 16).text("runtime (h)");

  const plot = g.append("g").attr("clip-path", `url(#${clipId})`);
  const lineSmooth = d3.line().x(d => x(d[0])).y(d => y(d[1])).curve(d3.curveMonotoneX);
  const lineRaw = d3.line().x(d => x(d[0])).y(d => y(d[1]));

  const strokes = [
    {data: p.em, color: BLUE, gen: lineSmooth},
    {data: p.xem, color: BLUE, gen: lineRaw},
    {data: p.cd, color: ORANGE, gen: lineSmooth},
    {data: p.xcd, color: ORANGE, gen: lineRaw}
  ];
  strokes.forEach(s => {
    plot.append("path").datum(s.data).attr("d", s.gen)
      .attr("fill", "none").attr("stroke", s.color).attr("stroke-width", LINE_W)
      .attr("stroke-linejoin", "round");
  });

  const dots = [
    {data: p.emM, color: BLUE, open: false},
    {data: p.cdM, color: ORANGE, open: false},
    {data: p.xemM, color: BLUE, open: true},
    {data: p.xcdM, color: ORANGE, open: true}
  ];
  dots.forEach(s => {
    g.append("g").selectAll("circle").data(s.data).join("circle")
      .attr("cx", d => x(d[0])).attr("cy", d => y(d[1])).attr("r", R)
      .attr("fill", s.open ? "#fff" : s.color)
      .attr("stroke", s.color).attr("stroke-width", s.open ? 1.4 : 1);
  });

  // y-axis title on the first column
  if (f.left < 100) {
    g.append("text")
      .attr("transform", `translate(21,${(f.top + f.bottom) / 2}) rotate(-90)`)
      .attr("text-anchor", "middle").attr("font-size", 16).text("max. KKT residual");
  }
});

// legend inside the K = 2 panel
const legendStyle = [
  {color: BLUE, open: false},
  {color: ORANGE, open: false},
  {color: BLUE, open: true},
  {color: ORANGE, open: true}
];
const legend = svg.append("g").attr("transform", "translate(138,104.5)");
legendLabels.forEach((lab, i) => {
  const row = legend.append("g").attr("transform", `translate(0,${i * 19})`);
  row.append("line").attr("x1", 0).attr("x2", 15).attr("y1", 0).attr("y2", 0)
    .attr("stroke", legendStyle[i].color).attr("stroke-width", LINE_W);
  row.append("circle").attr("cx", 7.5).attr("cy", 0).attr("r", R)
    .attr("fill", legendStyle[i].open ? "#fff" : legendStyle[i].color)
    .attr("stroke", legendStyle[i].color).attr("stroke-width", legendStyle[i].open ? 1.4 : 1);
  row.append("text").attr("x", 20).attr("y", 5.5).attr("font-size", 15.5).text(lab);
});
</script>
</body>
</html>
